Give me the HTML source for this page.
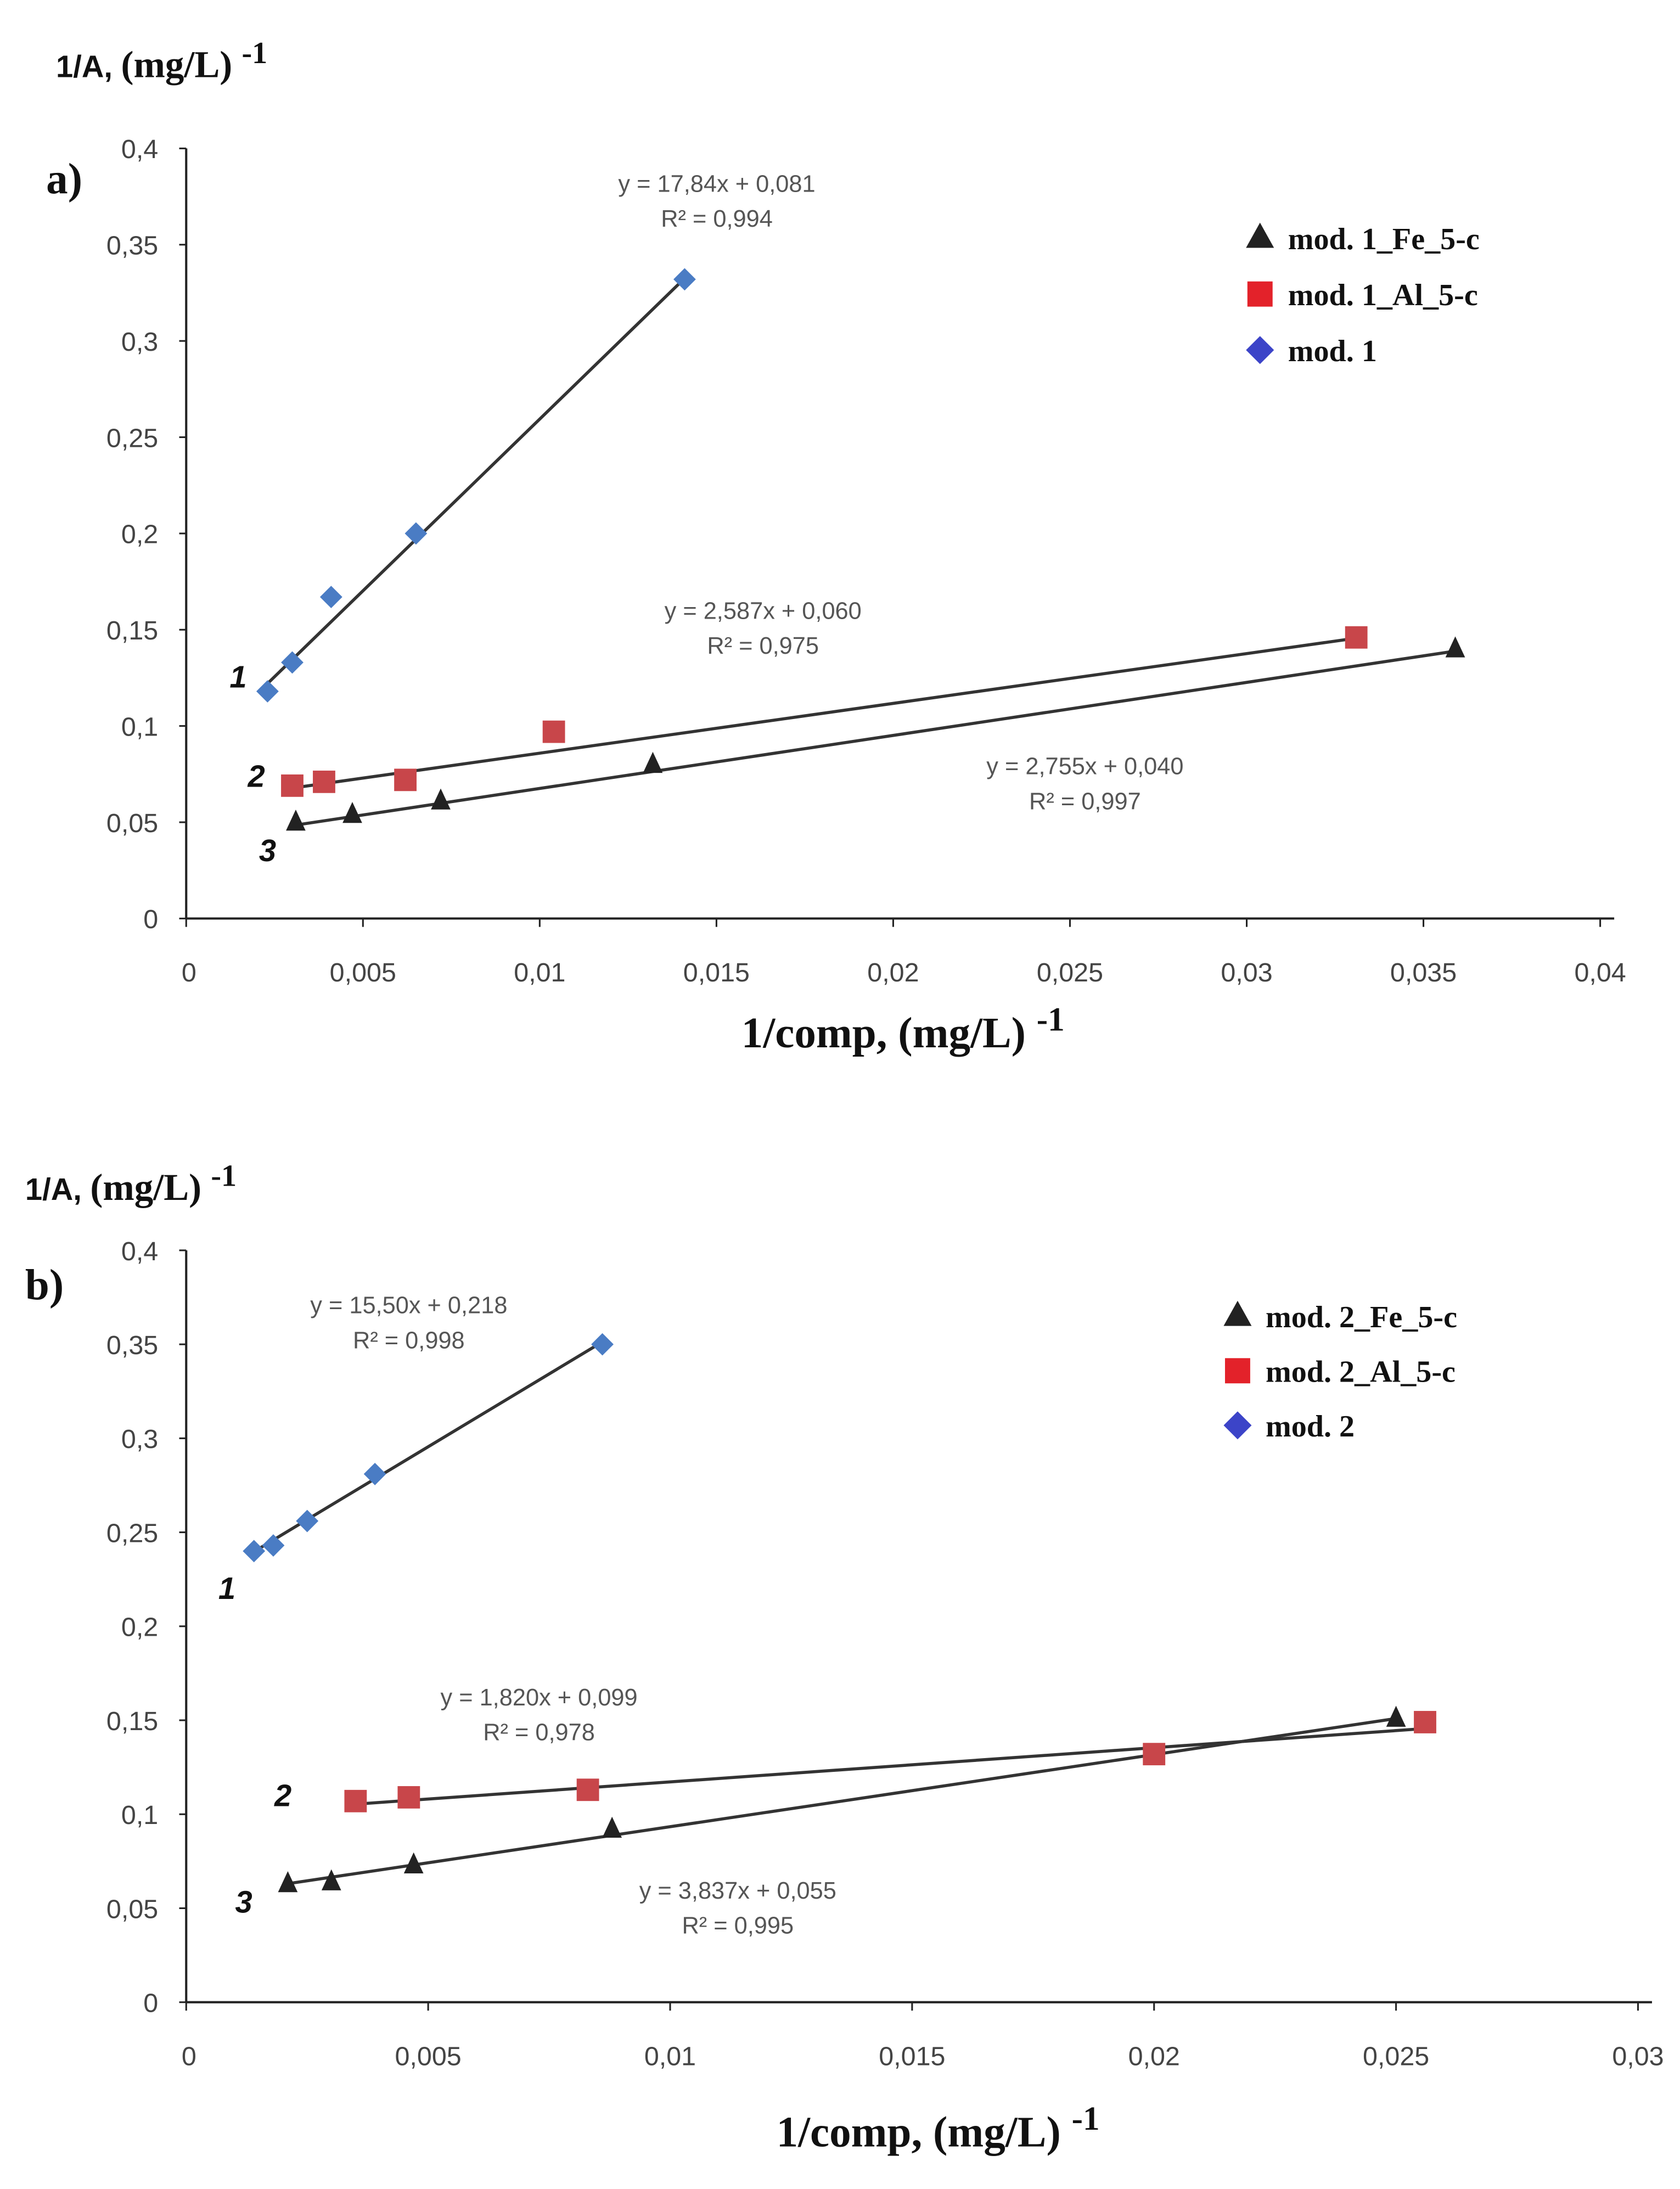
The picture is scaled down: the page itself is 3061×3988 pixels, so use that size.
<!DOCTYPE html>
<html><head><meta charset="utf-8"><style>
html,body{margin:0;padding:0;background:#fff;}
svg{display:block;}
.tick{font-family:"Liberation Sans Narrow","Liberation Sans",sans-serif;font-size:19px;fill:#444;}
.eq{font-family:"Liberation Sans Narrow","Liberation Sans",sans-serif;font-size:17px;fill:#555;}
.ser{font-family:"Liberation Serif",serif;font-weight:bold;fill:#111;}
.num{font-family:"Liberation Sans",sans-serif;font-weight:bold;font-style:italic;font-size:22px;fill:#111;}
</style></head><body>
<svg id="fig" width="3061" height="3988" viewBox="0 0 1200 1563.4" xmlns="http://www.w3.org/2000/svg"></svg>
<script>
// ---- Chart a data ----
const aMod1X=[0.0023,0.0030,0.0041,0.0065,0.0141];
const aMod1Y=[0.118,0.133,0.167,0.200,0.332];
const aAlX=[0.0030,0.0039,0.0062,0.0104,0.0331];
const aAlY=[0.069,0.071,0.072,0.097,0.146];
const aFeX=[0.0031,0.0047,0.0072,0.0132,0.0359];
const aFeY=[0.050,0.054,0.061,0.080,0.140];
const aFits=[[17.84,0.081],[2.587,0.060],[2.755,0.040]];
const aXTicks=[0,0.005,0.01,0.015,0.02,0.025,0.03,0.035,0.04];
const aXLabels=["0","0,005","0,01","0,015","0,02","0,025","0,03","0,035","0,04"];
// ---- Chart b data ----
const bMod2X=[0.0014,0.0018,0.0025,0.0039,0.0086];
const bMod2Y=[0.240,0.243,0.256,0.281,0.350];
const bAlX=[0.0035,0.0046,0.0083,0.0200,0.0256];
const bAlY=[0.107,0.109,0.113,0.132,0.149];
const bFeX=[0.0021,0.0030,0.0047,0.0088,0.0250];
const bFeY=[0.063,0.064,0.073,0.092,0.151];
const bFits=[[15.50,0.218],[1.820,0.099],[3.837,0.055]];
const bXTicks=[0,0.005,0.01,0.015,0.02,0.025,0.03];
const bXLabels=["0","0,005","0,01","0,015","0,02","0,025","0,03"];
const yTicks=[0,0.05,0.1,0.15,0.2,0.25,0.3,0.35,0.4];
const yLabels=["0","0,05","0,1","0,15","0,2","0,25","0,3","0,35","0,4"];

const NS="http://www.w3.org/2000/svg";
const svg=document.getElementById('fig');
function mk(tag,attrs,parent,text){const e=document.createElementNS(NS,tag);for(const k in attrs)e.setAttribute(k,attrs[k]);if(text!==undefined)e.textContent=text;(parent||svg).appendChild(e);return e;}

function chart(cfg){
  const g=mk('g',{});
  
  
  const sx=v=>cfg.x0+(v-0)/cfg.xmax*(cfg.x1-cfg.x0);
  const sy=v=>cfg.y0-(v/0.4)*(cfg.y0-cfg.y1);
  const ya=mk('line',{x1:cfg.x0,y1:cfg.y0,x2:cfg.x0,y2:cfg.y1,stroke:'#222','stroke-width':1.6},g);
  
  const xa=mk('line',{x1:cfg.x0,y1:cfg.y0,x2:cfg.x1+10,y2:cfg.y0,stroke:'#222','stroke-width':1.6},g);
  
  yTicks.forEach((t,i)=>{
    mk('line',{x1:cfg.x0-5,y1:sy(t),x2:cfg.x0,y2:sy(t),stroke:'#222','stroke-width':1.2},g);
    const l=mk('text',{x:cfg.x0-20,y:sy(t)+7,'text-anchor':'end',class:'tick'},g,yLabels[i]);
    
  });
  cfg.xt.forEach((t,i)=>{
    mk('line',{x1:sx(t),y1:cfg.y0,x2:sx(t),y2:cfg.y0+6,stroke:'#222','stroke-width':1.2},g);
    const l=mk('text',{x:sx(t)+(i==0?2:0),y:cfg.y0+45,'text-anchor':'middle',class:'tick'},g,cfg.xl[i]);
    
  });
  cfg.fits.forEach((f,i)=>{
    const xs=cfg.series[i].x;const xa0=Math.min(...xs),xa1=Math.max(...xs);
    const ln=mk('line',{x1:sx(xa0),y1:sy(f[0]*xa0+f[1]),x2:sx(xa1),y2:sy(f[0]*xa1+f[1]),stroke:'#333','stroke-width':2.2},g);
    
  });
  cfg.series.forEach((s,si)=>{
    s.x.forEach((xv,j)=>{
      const px=sx(xv),py=sy(s.y[j]);let m;
      if(s.type==='d') m=mk('polygon',{points:`${px},${py-8} ${px+8},${py} ${px},${py+8} ${px-8},${py}`,fill:'#4a7cc4'},g);
      else if(s.type==='s') m=mk('rect',{x:px-8,y:py-8,width:16,height:16,fill:'#c8464a'},g);
      else m=mk('polygon',{points:`${px},${py-9} ${px+7},${py+6} ${px-7},${py+6}`,fill:'#222'},g);
      
      
    });
  });
  cfg.eqs.forEach(e=>{
    const t1=mk('text',{x:e[0],y:e[1],'text-anchor':'middle',class:'eq'},g,e[2]);
    
    const t2=mk('text',{x:e[0],y:e[1]+25,'text-anchor':'middle',class:'eq'},g,e[3]);
    
  });
  cfg.nums.forEach(n=>{const t=mk('text',{x:n[0],y:n[1],class:'num'},g,n[2]);
    });
  const yt=mk('text',{x:cfg.yt[0],y:cfg.yt[1],class:'ser','font-size':27},g);
  mk('tspan',{'font-family':'Liberation Sans','font-size':22},yt,'1/A, ');
  mk('tspan',{},yt,'(mg/L) ');
  mk('tspan',{dy:-10,'font-size':22},yt,'-1');
  
  const xt=mk('text',{x:cfg.xtt[0],y:cfg.xtt[1],class:'ser','font-size':31,'text-anchor':'middle'},g);
  mk('tspan',{},xt,'1/comp, (mg/L) ');
  mk('tspan',{dy:-12,'font-size':24},xt,'-1');
  
  const pl=mk('text',{x:cfg.pl[0],y:cfg.pl[1],class:'ser','font-size':31},g,cfg.pl[2]);
  
  cfg.legend.forEach((L,i)=>{
    const lx=cfg.lg[0],ly=cfg.lg[1]+i*cfg.lg[2];
    let m;
    if(L[0]==='t') m=mk('polygon',{points:`${lx},${ly-11} ${lx+10},${ly+7} ${lx-10},${ly+7}`,fill:'#222'},g);
    else if(L[0]==='s') m=mk('rect',{x:lx-9,y:ly-9,width:18,height:18,fill:'#e3222a'},g);
    else m=mk('polygon',{points:`${lx},${ly-10} ${lx+10},${ly} ${lx},${ly+10} ${lx-10},${ly}`,fill:'#3c44c8'},g);
    
    const t=mk('text',{x:lx+20,y:ly+8,class:'ser','font-size':22},g,L[1]);
    
  });
}

chart({name:'chart-a',x0:133,x1:1143,xmax:0.04,y0:656,y1:106,xt:aXTicks,xl:aXLabels,
  series:[{x:aMod1X,y:aMod1Y,type:'d',name:'mod1'},{x:aAlX,y:aAlY,type:'s',name:'mod1-al'},{x:aFeX,y:aFeY,type:'t',name:'mod1-fe'}],
  fits:aFits,
  eqs:[[512,137,'y = 17,84x + 0,081','R² = 0,994'],[545,442,'y = 2,587x + 0,060','R² = 0,975'],[775,553,'y = 2,755x + 0,040','R² = 0,997']],
  nums:[[164,491,'1'],[177,562,'2'],[185,615,'3']],
  yt:[40,55],xtt:[645,748],pl:[33,138,'a)'],
  lg:[900,170,40],legend:[['t','mod. 1_Fe_5-c'],['s','mod. 1_Al_5-c'],['d','mod. 1']]});

chart({name:'chart-b',x0:133,x1:1170,xmax:0.03,y0:1430,y1:893,xt:bXTicks,xl:bXLabels,
  series:[{x:bMod2X,y:bMod2Y,type:'d',name:'mod2'},{x:bAlX,y:bAlY,type:'s',name:'mod2-al'},{x:bFeX,y:bFeY,type:'t',name:'mod2-fe'}],
  fits:bFits,
  eqs:[[292,938,'y = 15,50x + 0,218','R² = 0,998'],[385,1218,'y = 1,820x + 0,099','R² = 0,978'],[527,1356,'y = 3,837x + 0,055','R² = 0,995']],
  nums:[[156,1142,'1'],[196,1290,'2'],[168,1366,'3']],
  yt:[18,857],xtt:[670,1533],pl:[18,928,'b)'],
  lg:[884,940,39],legend:[['t','mod. 2_Fe_5-c'],['s','mod. 2_Al_5-c'],['d','mod. 2']]});
</script>
</body></html>
